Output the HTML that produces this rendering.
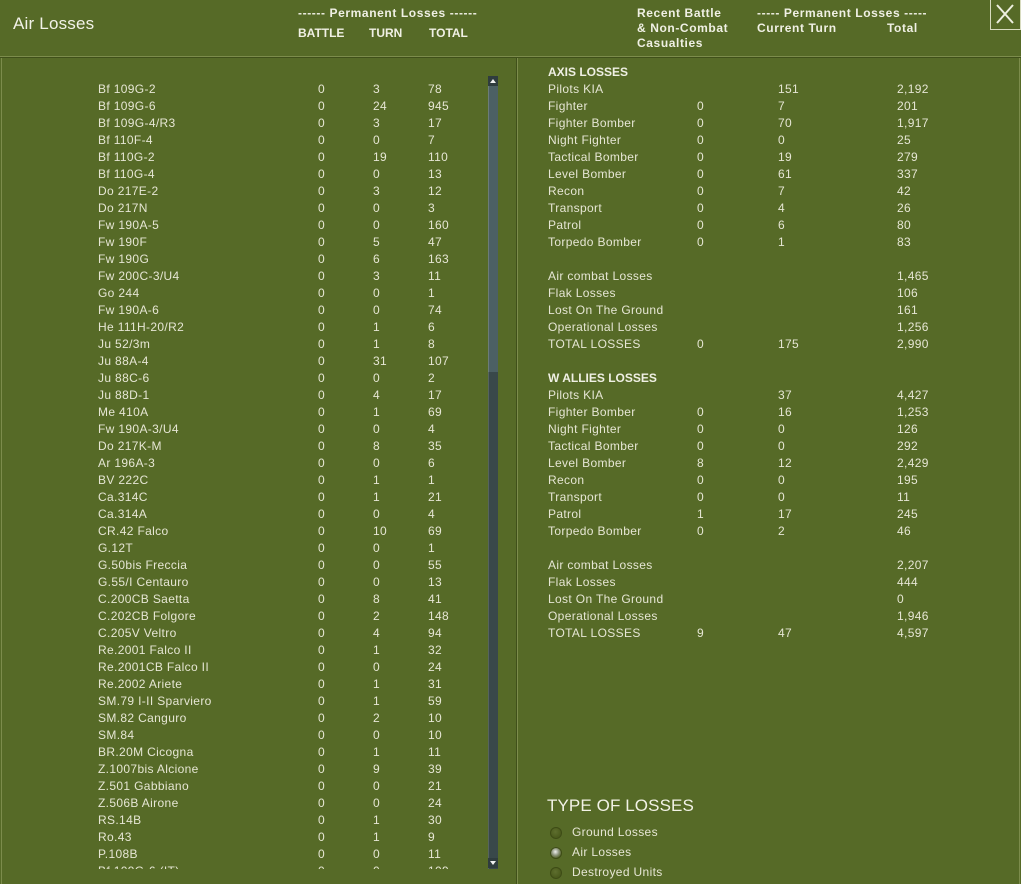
<!DOCTYPE html>
<html><head><meta charset="utf-8">
<style>
*{margin:0;padding:0;box-sizing:border-box}
html,body{width:1021px;height:884px;overflow:hidden}
body{background:#566a27;font-family:"Liberation Sans","DejaVu Sans",sans-serif;color:#e6e6d4;font-size:12px;letter-spacing:0.35px;position:relative}
.t{position:absolute;white-space:nowrap;line-height:14px}
.b{font-weight:bold;color:#f0f0e4;letter-spacing:0.6px}
.b.caps{letter-spacing:0}
.hl{position:absolute;left:0;top:56px;width:1021px;height:1px;background:#7c8c4c}
.hd{position:absolute;left:0;top:57px;width:1021px;height:1px;background:#40501a}
.vl{position:absolute;top:58px;bottom:0;width:1px;background:#7c8c4c}
.vd{position:absolute;top:58px;bottom:0;width:1px;background:#40501a}
#list{position:absolute;left:0;top:58px;width:517px;height:811px;overflow:hidden}
.r{position:absolute;left:0;width:517px;height:14px;line-height:14px}
.r span{position:absolute;top:0;white-space:nowrap}
.r .n{left:98px}.r .a{left:318px}.r .c{left:373px}.r .d{left:428px}
.q{position:absolute;left:0;width:500px;height:14px;line-height:14px}
.q span{position:absolute;top:0;white-space:nowrap}
.q .n{left:548px}.q .a{left:697px}.q .c{left:778px}.q .d{left:897px}
.rad{position:absolute;left:550px;width:12px;height:12px;border-radius:50%;background:radial-gradient(circle at 45% 40%,#5e6e2e 0%,#4a5a1c 60%,#8a9a58 100%);box-shadow:inset 0 0 0 1px #3e4c16}
.rad.on{background:radial-gradient(circle at 45% 40%,#f0f0f0 0%,#909880 35%,#4a5a1c 70%,#8a9a58 100%)}
</style></head><body>
<div class="t" style="left:13px;top:13px;font-size:17px;line-height:22px;color:#f2f2e8;letter-spacing:0.2px">Air Losses</div>
<div class="t b" style="left:298px;top:6px">------ Permanent Losses ------</div>
<div class="t b caps" style="left:298px;top:26px">BATTLE</div>
<div class="t b caps" style="left:369px;top:26px">TURN</div>
<div class="t b caps" style="left:429px;top:26px">TOTAL</div>
<div class="t b" style="left:637px;top:6px">Recent Battle</div>
<div class="t b" style="left:637px;top:21px">&amp; Non-Combat</div>
<div class="t b" style="left:637px;top:36px">Casualties</div>
<div class="t b" style="left:757px;top:6px">----- Permanent Losses -----</div>
<div class="t b" style="left:757px;top:21px">Current Turn</div>
<div class="t b" style="left:887px;top:21px">Total</div>
<div style="position:absolute;left:990px;top:-1px;width:31px;height:31px;border:1px solid #d8dcc0"></div>
<svg style="position:absolute;left:990px;top:0" width="31" height="30"><path d="M7 5 L23 23 M23 5 L7 23" stroke="#eef0e0" stroke-width="2"/></svg>
<div class="hl"></div><div class="hd"></div>
<div class="vl" style="left:1px"></div>
<div class="vd" style="left:516px"></div><div class="vl" style="left:517px"></div>
<div class="vl" style="left:1019px"></div>
<div id="list">
<div class="r" style="top:24px"><span class="n">Bf 109G-2</span><span class="a">0</span><span class="c">3</span><span class="d">78</span></div>
<div class="r" style="top:41px"><span class="n">Bf 109G-6</span><span class="a">0</span><span class="c">24</span><span class="d">945</span></div>
<div class="r" style="top:58px"><span class="n">Bf 109G-4/R3</span><span class="a">0</span><span class="c">3</span><span class="d">17</span></div>
<div class="r" style="top:75px"><span class="n">Bf 110F-4</span><span class="a">0</span><span class="c">0</span><span class="d">7</span></div>
<div class="r" style="top:92px"><span class="n">Bf 110G-2</span><span class="a">0</span><span class="c">19</span><span class="d">110</span></div>
<div class="r" style="top:109px"><span class="n">Bf 110G-4</span><span class="a">0</span><span class="c">0</span><span class="d">13</span></div>
<div class="r" style="top:126px"><span class="n">Do 217E-2</span><span class="a">0</span><span class="c">3</span><span class="d">12</span></div>
<div class="r" style="top:143px"><span class="n">Do 217N</span><span class="a">0</span><span class="c">0</span><span class="d">3</span></div>
<div class="r" style="top:160px"><span class="n">Fw 190A-5</span><span class="a">0</span><span class="c">0</span><span class="d">160</span></div>
<div class="r" style="top:177px"><span class="n">Fw 190F</span><span class="a">0</span><span class="c">5</span><span class="d">47</span></div>
<div class="r" style="top:194px"><span class="n">Fw 190G</span><span class="a">0</span><span class="c">6</span><span class="d">163</span></div>
<div class="r" style="top:211px"><span class="n">Fw 200C-3/U4</span><span class="a">0</span><span class="c">3</span><span class="d">11</span></div>
<div class="r" style="top:228px"><span class="n">Go 244</span><span class="a">0</span><span class="c">0</span><span class="d">1</span></div>
<div class="r" style="top:245px"><span class="n">Fw 190A-6</span><span class="a">0</span><span class="c">0</span><span class="d">74</span></div>
<div class="r" style="top:262px"><span class="n">He 111H-20/R2</span><span class="a">0</span><span class="c">1</span><span class="d">6</span></div>
<div class="r" style="top:279px"><span class="n">Ju 52/3m</span><span class="a">0</span><span class="c">1</span><span class="d">8</span></div>
<div class="r" style="top:296px"><span class="n">Ju 88A-4</span><span class="a">0</span><span class="c">31</span><span class="d">107</span></div>
<div class="r" style="top:313px"><span class="n">Ju 88C-6</span><span class="a">0</span><span class="c">0</span><span class="d">2</span></div>
<div class="r" style="top:330px"><span class="n">Ju 88D-1</span><span class="a">0</span><span class="c">4</span><span class="d">17</span></div>
<div class="r" style="top:347px"><span class="n">Me 410A</span><span class="a">0</span><span class="c">1</span><span class="d">69</span></div>
<div class="r" style="top:364px"><span class="n">Fw 190A-3/U4</span><span class="a">0</span><span class="c">0</span><span class="d">4</span></div>
<div class="r" style="top:381px"><span class="n">Do 217K-M</span><span class="a">0</span><span class="c">8</span><span class="d">35</span></div>
<div class="r" style="top:398px"><span class="n">Ar 196A-3</span><span class="a">0</span><span class="c">0</span><span class="d">6</span></div>
<div class="r" style="top:415px"><span class="n">BV 222C</span><span class="a">0</span><span class="c">1</span><span class="d">1</span></div>
<div class="r" style="top:432px"><span class="n">Ca.314C</span><span class="a">0</span><span class="c">1</span><span class="d">21</span></div>
<div class="r" style="top:449px"><span class="n">Ca.314A</span><span class="a">0</span><span class="c">0</span><span class="d">4</span></div>
<div class="r" style="top:466px"><span class="n">CR.42 Falco</span><span class="a">0</span><span class="c">10</span><span class="d">69</span></div>
<div class="r" style="top:483px"><span class="n">G.12T</span><span class="a">0</span><span class="c">0</span><span class="d">1</span></div>
<div class="r" style="top:500px"><span class="n">G.50bis Freccia</span><span class="a">0</span><span class="c">0</span><span class="d">55</span></div>
<div class="r" style="top:517px"><span class="n">G.55/I Centauro</span><span class="a">0</span><span class="c">0</span><span class="d">13</span></div>
<div class="r" style="top:534px"><span class="n">C.200CB Saetta</span><span class="a">0</span><span class="c">8</span><span class="d">41</span></div>
<div class="r" style="top:551px"><span class="n">C.202CB Folgore</span><span class="a">0</span><span class="c">2</span><span class="d">148</span></div>
<div class="r" style="top:568px"><span class="n">C.205V Veltro</span><span class="a">0</span><span class="c">4</span><span class="d">94</span></div>
<div class="r" style="top:585px"><span class="n">Re.2001 Falco II</span><span class="a">0</span><span class="c">1</span><span class="d">32</span></div>
<div class="r" style="top:602px"><span class="n">Re.2001CB Falco II</span><span class="a">0</span><span class="c">0</span><span class="d">24</span></div>
<div class="r" style="top:619px"><span class="n">Re.2002 Ariete</span><span class="a">0</span><span class="c">1</span><span class="d">31</span></div>
<div class="r" style="top:636px"><span class="n">SM.79 I-II Sparviero</span><span class="a">0</span><span class="c">1</span><span class="d">59</span></div>
<div class="r" style="top:653px"><span class="n">SM.82 Canguro</span><span class="a">0</span><span class="c">2</span><span class="d">10</span></div>
<div class="r" style="top:670px"><span class="n">SM.84</span><span class="a">0</span><span class="c">0</span><span class="d">10</span></div>
<div class="r" style="top:687px"><span class="n">BR.20M Cicogna</span><span class="a">0</span><span class="c">1</span><span class="d">11</span></div>
<div class="r" style="top:704px"><span class="n">Z.1007bis Alcione</span><span class="a">0</span><span class="c">9</span><span class="d">39</span></div>
<div class="r" style="top:721px"><span class="n">Z.501 Gabbiano</span><span class="a">0</span><span class="c">0</span><span class="d">21</span></div>
<div class="r" style="top:738px"><span class="n">Z.506B Airone</span><span class="a">0</span><span class="c">0</span><span class="d">24</span></div>
<div class="r" style="top:755px"><span class="n">RS.14B</span><span class="a">0</span><span class="c">1</span><span class="d">30</span></div>
<div class="r" style="top:772px"><span class="n">Ro.43</span><span class="a">0</span><span class="c">1</span><span class="d">9</span></div>
<div class="r" style="top:789px"><span class="n">P.108B</span><span class="a">0</span><span class="c">0</span><span class="d">11</span></div>
<div class="r" style="top:806px"><span class="n">Bf 109G-6 (IT)</span><span class="a">0</span><span class="c">0</span><span class="d">109</span></div>
</div>
<div style="position:absolute;left:488px;top:76px;width:10px;height:793px;background:#39484a;box-shadow:inset 1px 0 0 #56645e"></div>
<div style="position:absolute;left:488px;top:86px;width:10px;height:286px;background:#4c6064;box-shadow:inset 1px 0 0 #6c7c78"></div>
<div style="position:absolute;left:488px;top:76px;width:10px;height:10px;background:#2f3c3e"></div>
<svg style="position:absolute;left:488px;top:76px" width="10" height="10"><path d="M2 7 L5 3 L8 7 Z" fill="#f0f0f0"/></svg>
<div style="position:absolute;left:488px;top:858px;width:10px;height:10px;background:#2f3c3e"></div>
<svg style="position:absolute;left:488px;top:858px" width="10" height="10"><path d="M2 3 L5 7 L8 3 Z" fill="#f0f0f0"/></svg>
<div class="t b caps" style="left:548px;top:65px">AXIS LOSSES</div>
<div class="q" style="top:82px"><span class="n">Pilots KIA</span><span class="c">151</span><span class="d">2,192</span></div>
<div class="q" style="top:99px"><span class="n">Fighter</span><span class="a">0</span><span class="c">7</span><span class="d">201</span></div>
<div class="q" style="top:116px"><span class="n">Fighter Bomber</span><span class="a">0</span><span class="c">70</span><span class="d">1,917</span></div>
<div class="q" style="top:133px"><span class="n">Night Fighter</span><span class="a">0</span><span class="c">0</span><span class="d">25</span></div>
<div class="q" style="top:150px"><span class="n">Tactical Bomber</span><span class="a">0</span><span class="c">19</span><span class="d">279</span></div>
<div class="q" style="top:167px"><span class="n">Level Bomber</span><span class="a">0</span><span class="c">61</span><span class="d">337</span></div>
<div class="q" style="top:184px"><span class="n">Recon</span><span class="a">0</span><span class="c">7</span><span class="d">42</span></div>
<div class="q" style="top:201px"><span class="n">Transport</span><span class="a">0</span><span class="c">4</span><span class="d">26</span></div>
<div class="q" style="top:218px"><span class="n">Patrol</span><span class="a">0</span><span class="c">6</span><span class="d">80</span></div>
<div class="q" style="top:235px"><span class="n">Torpedo Bomber</span><span class="a">0</span><span class="c">1</span><span class="d">83</span></div>
<div class="q" style="top:269px"><span class="n">Air combat Losses</span><span class="d">1,465</span></div>
<div class="q" style="top:286px"><span class="n">Flak Losses</span><span class="d">106</span></div>
<div class="q" style="top:303px"><span class="n">Lost On The Ground</span><span class="d">161</span></div>
<div class="q" style="top:320px"><span class="n">Operational Losses</span><span class="d">1,256</span></div>
<div class="q" style="top:337px"><span class="n">TOTAL LOSSES</span><span class="a">0</span><span class="c">175</span><span class="d">2,990</span></div>
<div class="t b caps" style="left:548px;top:371px">W ALLIES LOSSES</div>
<div class="q" style="top:388px"><span class="n">Pilots KIA</span><span class="c">37</span><span class="d">4,427</span></div>
<div class="q" style="top:405px"><span class="n">Fighter Bomber</span><span class="a">0</span><span class="c">16</span><span class="d">1,253</span></div>
<div class="q" style="top:422px"><span class="n">Night Fighter</span><span class="a">0</span><span class="c">0</span><span class="d">126</span></div>
<div class="q" style="top:439px"><span class="n">Tactical Bomber</span><span class="a">0</span><span class="c">0</span><span class="d">292</span></div>
<div class="q" style="top:456px"><span class="n">Level Bomber</span><span class="a">8</span><span class="c">12</span><span class="d">2,429</span></div>
<div class="q" style="top:473px"><span class="n">Recon</span><span class="a">0</span><span class="c">0</span><span class="d">195</span></div>
<div class="q" style="top:490px"><span class="n">Transport</span><span class="a">0</span><span class="c">0</span><span class="d">11</span></div>
<div class="q" style="top:507px"><span class="n">Patrol</span><span class="a">1</span><span class="c">17</span><span class="d">245</span></div>
<div class="q" style="top:524px"><span class="n">Torpedo Bomber</span><span class="a">0</span><span class="c">2</span><span class="d">46</span></div>
<div class="q" style="top:558px"><span class="n">Air combat Losses</span><span class="d">2,207</span></div>
<div class="q" style="top:575px"><span class="n">Flak Losses</span><span class="d">444</span></div>
<div class="q" style="top:592px"><span class="n">Lost On The Ground</span><span class="d">0</span></div>
<div class="q" style="top:609px"><span class="n">Operational Losses</span><span class="d">1,946</span></div>
<div class="q" style="top:626px"><span class="n">TOTAL LOSSES</span><span class="a">9</span><span class="c">47</span><span class="d">4,597</span></div>
<div class="t" style="left:547px;top:795px;font-size:17px;line-height:22px;color:#f2f2e6;letter-spacing:0.1px">TYPE OF LOSSES</div>
<div class="rad" style="top:827px"></div>
<div class="t" style="left:572px;top:825px">Ground Losses</div>
<div class="rad on" style="top:847px"></div>
<div class="t" style="left:572px;top:845px">Air Losses</div>
<div class="rad" style="top:867px"></div>
<div class="t" style="left:572px;top:865px">Destroyed Units</div>
</body></html>
